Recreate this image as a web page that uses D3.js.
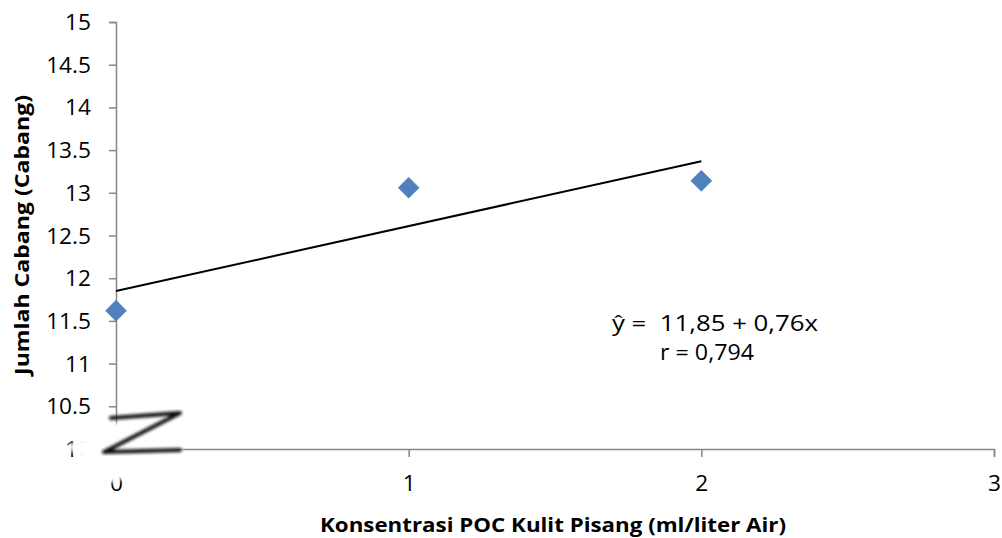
<!DOCTYPE html>
<html><head><meta charset="utf-8">
<script src="https://cdn.jsdelivr.net/npm/d3@7"></script>
<style>body{margin:0;background:#fff}</style>
</head><body>
<svg id="c" width="1002" height="538"></svg>
<script>
const xVals = [0, 1, 2];
const yVals = [11.62, 13.06, 13.14];
const yTicks = [10, 10.5, 11, 11.5, 12, 12.5, 13, 13.5, 14, 14.5, 15];
const xTicks = [0, 1, 2, 3];
const intercept = 11.85, slope = 0.76;
const eqLines = ["ŷ =  11,85 + 0,76x", "r = 0,794"];

const svg = d3.select("#c");
const font = "'Open Sans', Lato, sans-serif";
const x = d3.scaleLinear().domain([0, 3]).range([116, 994]);
const y = d3.scaleLinear().domain([10, 15]).range([449, 22]);
const axisColor = "#868686";

const gy = svg.append("g").attr("transform", "translate(116,0)")
  .call(d3.axisLeft(y).tickValues(yTicks).tickSize(7).tickPadding(6).tickFormat(d => String(d)));
const gx = svg.append("g").attr("transform", "translate(0,449)")
  .call(d3.axisBottom(x).tickValues(xTicks).tickSize(8).tickPadding(19).tickFormat(d => String(d)));
[gx, gy].forEach(g => {
  g.select(".domain").attr("stroke", axisColor).attr("stroke-width", 1.5);
  g.selectAll(".tick line").attr("stroke", axisColor).attr("stroke-width", 1.5);
  g.selectAll("text").attr("fill", "#000").style("font-family", font).style("font-size", "21px");
});
gy.selectAll("text").attr("dy", "0.36em").each(function() {
  const t = d3.select(this); const tx = +t.attr("x");
  t.attr("x", 0).attr("transform", `translate(${tx - 12},0) scale(1.08,1)`);
});
gx.selectAll("text").attr("transform", "scale(1.08,1)");

// trend line
svg.append("line")
  .attr("x1", x(0)).attr("y1", y(intercept))
  .attr("x2", x(2)).attr("y2", y(intercept + slope * 2))
  .attr("stroke", "#000").attr("stroke-width", 2);

// points (diamonds)
svg.selectAll(".pt").data(xVals.map((v, i) => [v, yVals[i]])).enter()
  .append("path").attr("class", "pt")
  .attr("d", d3.symbol().type(d3.symbolSquare).size(220))
  .attr("transform", d => `translate(${x(d[0])},${y(d[1])}) rotate(45)`)
  .attr("fill", "#4f81bd").attr("stroke", "#4a7ab5").attr("stroke-width", 0.5);

// axis break
const defs = svg.append("defs");
defs.append("filter").attr("id", "blur").append("feGaussianBlur").attr("stdDeviation", 1.6);
defs.append("filter").attr("id", "blur2").append("feGaussianBlur").attr("stdDeviation", 2);
svg.append("path")
  .attr("d", "M66,446 L172,398 L205,422 L182,445 L182,456 L150,470 L108,484 Z")
  .attr("fill", "#fff").attr("filter", "url(#blur2)");
svg.append("path")
  .attr("d", "M111,418 L180,413 L104,452 L180,450")
  .attr("fill", "none").attr("stroke", "#111").attr("stroke-width", 4)
  .attr("stroke-linejoin", "round").attr("stroke-linecap", "round")
  .attr("filter", "url(#blur)");

// equation
svg.append("text").attr("x", 612).attr("y", 331).text(eqLines[0])
  .attr("textLength", 206).attr("lengthAdjust", "spacingAndGlyphs")
  .style("font-family", font).style("font-size", "21px").style("white-space", "pre");
svg.append("text").attr("x", 660).attr("y", 360).text(eqLines[1])
  .attr("textLength", 94).attr("lengthAdjust", "spacingAndGlyphs")
  .style("font-family", font).style("font-size", "21px");

// axis titles
svg.append("text").attr("x", 320).attr("y", 532)
  .text("Konsentrasi POC Kulit Pisang (ml/liter Air)")
  .attr("textLength", 466).attr("lengthAdjust", "spacingAndGlyphs")
  .style("font-family", font).style("font-size", "19px").style("font-weight", "bold");
svg.append("text").attr("transform", "translate(29,375) rotate(-90)")
  .text("Jumlah Cabang (Cabang)")
  .attr("textLength", 280).attr("lengthAdjust", "spacingAndGlyphs")
  .style("font-family", font).style("font-size", "19px").style("font-weight", "bold");
</script>
</body></html>
